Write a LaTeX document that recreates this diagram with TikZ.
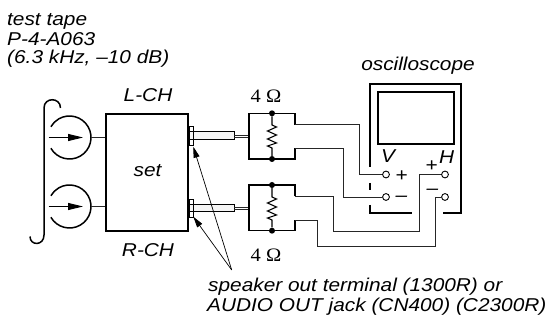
\documentclass[tikz,border=0pt]{standalone}
\usepackage{fontspec}
\newfontfamily\lab{Liberation Sans}[FakeStretch=1.12]
\newfontfamily\ser{Liberation Serif}[FakeStretch=1.08]
\usetikzlibrary{arrows.meta,calc}
\begin{document}
\begin{tikzpicture}[x=1pt,y=-1pt,
  every node/.style={inner sep=0pt},
  txt/.style={font=\lab\itshape\fontsize{18.6}{19}\selectfont},
  lbl/.style={txt,anchor=base west},
  clbl/.style={txt,anchor=base},
  ohm/.style={font=\ser\fontsize{19}{19}\selectfont,anchor=base},
  wire/.style={line width=0.85pt,black!85},
  net/.style={line width=1.1pt},
  frame/.style={line width=2.3pt},
  tape/.style={line width=1.5pt},
  term/.style={circle,draw,line width=0.9pt,minimum size=6.8pt,fill=white},
  dot/.style={circle,fill,minimum size=6pt},
  ptr/.style={line width=0.7pt,-{Triangle[length=11pt,width=6pt]}}]
\useasboundingbox (0,0) rectangle (555,320);
\fill[white] (0,0) rectangle (555,320);

% top-left texts
\node[lbl] (t1) at (7,26) {test tape};
\node[lbl] (t2) at (7,45.5) {P-4-A063};
\node[lbl] (t3) at (7,63.5) {(6.3 kHz, –10 dB)};

% tape bracket
\draw[tape] (60.5,108) .. controls (60.5,97) and (44,97) .. (44,108) -- (44,235)
  .. controls (44,246) and (30,246) .. (30,236.5);

% set box
\node[draw,line width=2pt,minimum width=82.3pt,minimum height=117pt] (set) at (147.2,172.5) {};
\node[clbl] (settxt) at (147.5,177) {set};
\node[clbl] (lch) at (148,102) {L-CH};
\node[clbl] (rch) at (148,256.5) {R-CH};

% tape heads
\coordinate (c1) at (69.5,137.5);
\coordinate (c2) at (69.5,206.5);
\foreach \c in {c1,c2}{
  \draw[tape] ($(\c)+(150:21.5)$) arc[start angle=150,end angle=-150,radius=21.5];
  \draw[line width=1pt,-{Triangle[length=15pt,width=7pt]}] ($(\c)+(-21,0)$) -- ($(\c)+(13.5,0)$);
  \draw[wire] ($(\c)+(21.5,0)$) -- (set.west |- \c);
}

% plugs and terminals
\draw[line width=0.9pt,fill=black!4] (189,131.5) rectangle (234,139);
\draw[line width=0.9pt,fill=black!4] (189,204) rectangle (234,211.7);
\draw[line width=1pt] (189,127) rectangle (193,146);
\draw[line width=1pt] (189,200) rectangle (193,218);
\draw[wire] (234,135.3) -- (249,135.3) (234,137.7) -- (249,137.7);
\draw[wire] (234,207) -- (249,207) (234,209.4) -- (249,209.4);

% resistor networks
\node[dot] (d1a) at (272,113.3) {};
\node[dot] (d1b) at (272,159) {};
\node[dot] (d2a) at (272,185) {};
\node[dot] (d2b) at (272,230.7) {};
\coordinate (n1a) at (295,124.7);
\coordinate (n1b) at (295,148);
\coordinate (n2a) at (295,196.5);
\coordinate (n2b) at (295,220);
\draw[net] (n1a) -- (295,113.3) -- (249,113.3) -- (249,159) -- (295,159) -- (n1b);
\draw[net] (n2a) -- (295,185) -- (249,185) -- (249,230.7) -- (295,230.7) -- (n2b);
\draw[net] (d1a) -- (272,125) -- (276.5,127) -- (267.5,131) -- (276.5,135) -- (267.5,139)
  -- (276.5,143) -- (267.5,146) -- (272,148) -- (d1b);
\draw[net] (d2a) -- (272,197) -- (276.5,199) -- (267.5,203) -- (276.5,207) -- (267.5,211)
  -- (276.5,215) -- (267.5,218) -- (272,220) -- (d2b);
\node[ohm] (o1) at (266,102.7) {4 Ω};
\node[ohm] (o2) at (266,261.5) {4 Ω};

% oscilloscope
\draw[frame] (370,167) -- (370,84) -- (461,84) -- (461,213) -- (443,213);
\draw[frame] (370,183) -- (370,190);
\draw[frame] (370,205) -- (370,213) -- (412,213);
\draw[line width=1.2pt] (378,92) rectangle (454,144);
\node[clbl] (osc) at (418,71) {oscilloscope};

\node[term] (vp) at (386,174.5) {};
\node[term] (vm) at (386,197) {};
\node[term] (hp) at (445,174.5) {};
\node[term] (hm) at (445,197) {};
\node[clbl] (vl) at (388,163) {V};
\node[clbl] (vpl) at (401.5,181.6) {+};
\node[clbl] (vml) at (401.5,202) {–};
\node[clbl] (hpl) at (431.5,171.6) {+};
\node[lbl] (hl) at (439,164) {H};
\node[clbl] (hml) at (432.5,194.5) {–};

% wiring
\coordinate (w1) at (359,124.7);
\coordinate (w2) at (343,148);
\coordinate (w3a) at (333,196.5);
\coordinate (w3b) at (419,231);
\coordinate (w4a) at (317,220);
\coordinate (w4b) at (435,246);
\draw[wire] (n1a) -- (w1) |- (vp.west);
\draw[wire] (n1b) -- (w2) |- (vm.west);
\draw[wire] (n2a) -- (w3a) |- (w3b) |- (hp.west);
\draw[wire] (n2b) -- (w4a) |- (w4b) |- (hm.west);

% bottom label and pointers
\node[lbl] (spk) at (208,292) {speaker out terminal (1300R) or};
\node[lbl] (aud) at (207,312) {AUDIO OUT jack (CN400) (C2300R)};
\coordinate (pt) at (231.7,270);
\coordinate (tp1) at (193.3,146.7);
\coordinate (tp2) at (193.3,216.7);
\draw[ptr] (pt) -- (tp1);
\draw[ptr] (pt) -- (tp2);
\end{tikzpicture}
\end{document}
